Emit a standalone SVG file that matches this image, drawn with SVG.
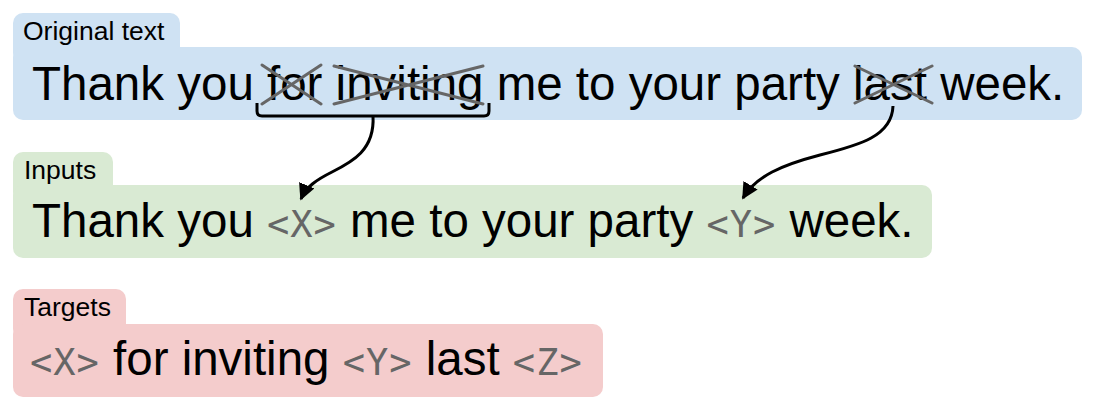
<svg xmlns="http://www.w3.org/2000/svg" width="1096" height="412" viewBox="0 0 1096 412">
<defs>
<style>
.lbl{font-family:"Liberation Sans",Arial,sans-serif;font-size:26.5px;fill:#000}
.main{font-family:"Liberation Sans",Arial,sans-serif;font-size:47.5px;fill:#000}
.tok{font-family:"DejaVu Sans Mono",monospace;font-size:37px;fill:#666;letter-spacing:1px}
.blue{fill:#cfe2f3}.green{fill:#d9ead3}.pink{fill:#f4cccc}
.strike{stroke:#666;stroke-width:3;fill:none;stroke-linecap:round}
.conn{stroke:#000;stroke-width:3;fill:none;stroke-linejoin:round}
</style>
<marker id="arr" viewBox="0 0 10 10" refX="9" refY="5" markerWidth="5.5" markerHeight="5.5" markerUnits="strokeWidth" orient="auto">
<path d="M0,0 L10,5 L0,10 z" fill="#000"/>
</marker>
</defs>
<g id="original">
<rect class="blue" x="13" y="13" width="167" height="50" rx="10"/>
<rect class="blue" x="13" y="47" width="1069" height="73" rx="10"/>
<text class="lbl" x="23" y="40">Original text</text>
<text class="main" x="32" y="100">Thank you for inviting me to your party last week.</text>
<path class="strike" d="M262,65 L321,104 M262,104 L321,65 M334,66 L483,104 M334,104 L483,66 M855,66 L932,103 M855,103 L932,66"/>
</g>
<g id="inputs">
<rect class="green" x="13" y="152" width="100" height="50" rx="10"/>
<rect class="green" x="13" y="185" width="919" height="73" rx="10"/>
<text class="lbl" x="24" y="179">Inputs</text>
<text class="main" x="32" y="237" xml:space="preserve">Thank you <tspan class="tok">&lt;X&gt;</tspan> me to your party <tspan class="tok">&lt;Y&gt;</tspan> week.</text>
</g>
<g id="targets">
<rect class="pink" x="13" y="289" width="113" height="50" rx="10"/>
<rect class="pink" x="13" y="324" width="590" height="73" rx="10"/>
<text class="lbl" x="24" y="316">Targets</text>
<text class="main" x="30" y="375" xml:space="preserve"><tspan class="tok">&lt;X&gt;</tspan> for inviting <tspan class="tok">&lt;Y&gt;</tspan> last <tspan class="tok">&lt;Z&gt;</tspan></text>
</g>
<g id="connectors">
<path class="conn" d="M257,103 L257,111 Q257,116 262,116 L484,116 Q489,116 489,111 L489,103"/>
<path class="conn" marker-end="url(#arr)" d="M373,116 C375,150 352,162 332,172 C316,180 306,187 301,199"/>
<path class="conn" marker-end="url(#arr)" d="M893,106 C892,136 860,145 820,155 C782,165 756,176 743,198"/>
</g>
</svg>
